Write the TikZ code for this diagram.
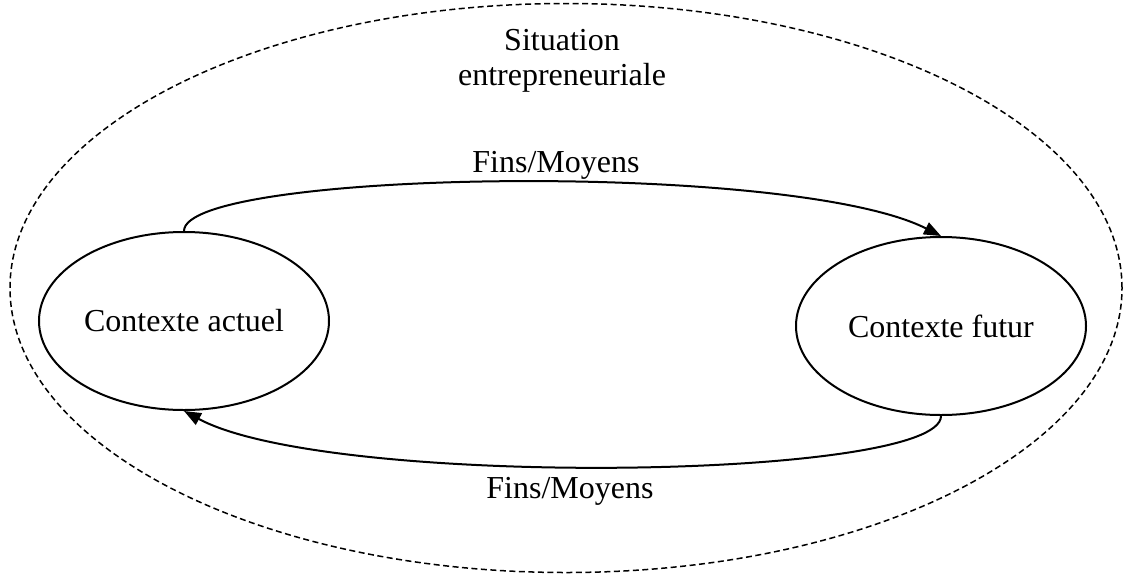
\documentclass[tikz,border=0pt]{standalone}
\usepackage{fontspec}
\setmainfont{Liberation Serif}
\usetikzlibrary{shapes.geometric,arrows.meta}
\begin{document}
\begin{tikzpicture}[x=1pt,y=-1pt,
  every node/.style={font=\fontsize{32}{35}\selectfont, inner sep=0pt},
  ctx/.style={ellipse, draw, line width=2pt, minimum width=290pt, minimum height=178pt},
  outer/.style={ellipse, draw, line width=1.5pt, dash pattern=on 6pt off 3.5pt, minimum width=1112pt, minimum height=569pt},
  link/.style={line width=2pt, -{Triangle[length=17pt,width=13pt]}},
  lbl/.style={anchor=base}]
\useasboundingbox (0,0) rectangle (1124,576);
\node[outer] (sit) at (566,288) {};
\node[align=center] (title) at (562,61) {Situation\\entrepreneuriale};
\node[ctx] (L) at (184,321) {Contexte actuel};
\node[ctx] (R) at (941,326) {Contexte futur};
\draw[link] (L.north) .. controls +(0,-61) and +(-150,-76) .. (R.north);
\draw[link] (R.south) .. controls +(0,64) and +(145,78) .. (L.south);
\node[lbl] (top) at (556,172) {Fins/Moyens};
\node[lbl] (bot) at (570,498) {Fins/Moyens};
\end{tikzpicture}
\end{document}
